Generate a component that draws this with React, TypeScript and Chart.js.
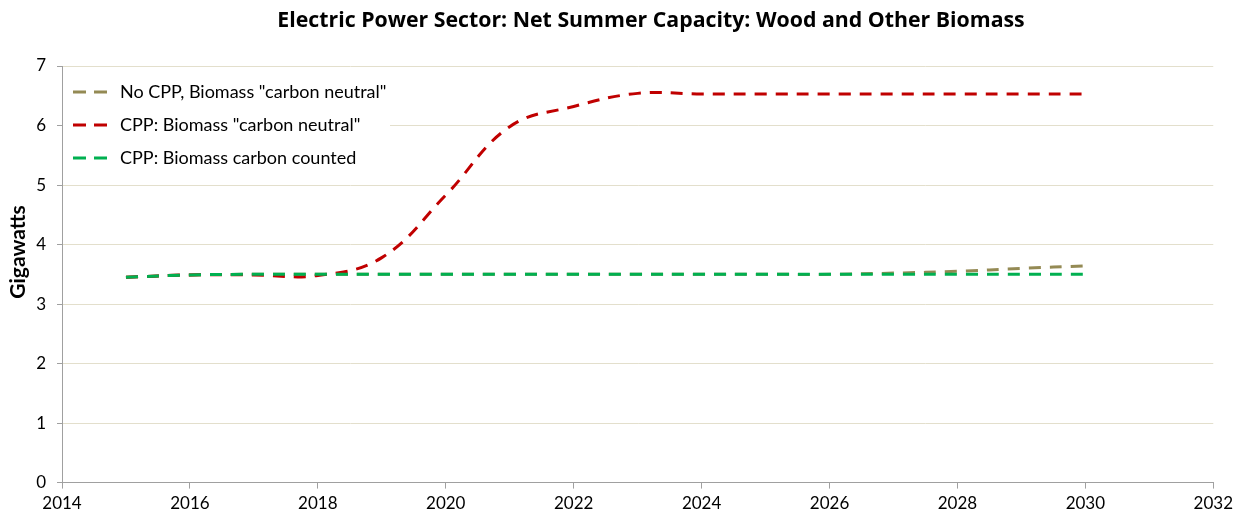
import React, { useEffect, useRef } from "react";
import { Chart, registerables } from "chart.js";

Chart.register(...registerables);

const years = [2015, 2016, 2017, 2018, 2019, 2020, 2021, 2022, 2023, 2024, 2025, 2026, 2027, 2028, 2029, 2030];
const noCpp = [3.45, 3.49, 3.5, 3.5, 3.5, 3.5, 3.5, 3.5, 3.5, 3.5, 3.5, 3.5, 3.52, 3.55, 3.6, 3.64];
const cppNeutral = [3.45, 3.49, 3.49, 3.48, 3.78, 4.83, 5.98, 6.32, 6.54, 6.53, 6.53, 6.53, 6.53, 6.53, 6.53, 6.53];
const cppCounted = [3.45, 3.49, 3.5, 3.5, 3.5, 3.5, 3.5, 3.5, 3.5, 3.5, 3.5, 3.5, 3.5, 3.5, 3.5, 3.5];

const seriesLabels = ['No CPP, Biomass "carbon neutral"', 'CPP: Biomass "carbon neutral"', "CPP: Biomass carbon counted"];
const seriesColors = ["#948a54", "#c00000", "#00b050"];
const titleText = "Electric Power Sector: Net Summer Capacity: Wood and Other Biomass";
const yTitle = "Gigawatts";

const FONT = "Lato, 'Open Sans', sans-serif";

const textPlugin = {
  id: "textAndLegend",
  beforeDatasetsDraw(chart: any) {
    const { ctx, chartArea } = chart;
    ctx.save();
    ctx.fillStyle = "#ffffff";
    ctx.fillRect(chartArea.left + 1, chartArea.top + 8, 327, 104);
    ctx.restore();
  },
  afterDatasetsDraw(chart: any) {
    const { ctx, chartArea } = chart;
    ctx.save();
    const x0 = chartArea.left + 11;
    const y0 = chartArea.top + 26;
    const gap = 33;
    ctx.font = "18px " + FONT;
    ctx.textBaseline = "middle";
    ctx.textAlign = "left";
    seriesLabels.forEach((lab, i) => {
      const y = y0 + i * gap;
      ctx.strokeStyle = seriesColors[i];
      ctx.lineWidth = 3;
      ctx.setLineDash([13, 8]);
      ctx.beginPath();
      ctx.moveTo(x0, y);
      ctx.lineTo(x0 + 34, y);
      ctx.stroke();
      ctx.setLineDash([]);
      ctx.fillStyle = "#000000";
      ctx.fillText(lab, x0 + 47, y);
    });
    // title
    ctx.font = "bold 21.3px 'Open Sans', sans-serif";
    ctx.textAlign = "center";
    ctx.textBaseline = "middle";
    ctx.fillText(titleText, 651, 21);
    // y axis title
    ctx.translate(18, 252);
    ctx.rotate(-Math.PI / 2);
    ctx.font = "bold 21px " + FONT;
    ctx.fillText(yTitle, 0, 0);
    ctx.restore();
  },
};

export default function App() {
  const ref = useRef<HTMLCanvasElement | null>(null);
  useEffect(() => {
    if (!ref.current) return;
    const mk = (vals: number[], i: number, order: number) => ({
      label: seriesLabels[i],
      data: years.map((y, k) => ({ x: y, y: vals[k] })),
      borderColor: seriesColors[i],
      backgroundColor: seriesColors[i],
      borderWidth: 3,
      borderDash: [12, 9],
      pointRadius: 0,
      tension: 0.4,
      fill: false,
      order,
    });
    const chart = new Chart(ref.current, {
      type: "line",
      data: {
        datasets: [mk(noCpp, 0, 3), mk(cppNeutral, 1, 2), mk(cppCounted, 2, 1)],
      },
      plugins: [textPlugin],
      options: {
        animation: false,
        responsive: true,
        maintainAspectRatio: false,
        layout: { padding: { left: 0, right: 20, top: 66, bottom: 0 } },
        plugins: {
          legend: { display: false },
          tooltip: { enabled: false },
          title: { display: false },
        },
        scales: {
          x: {
            type: "linear",
            min: 2014,
            max: 2032,
            ticks: {
              stepSize: 2,
              color: "#000000",
              font: { family: FONT, size: 17 },
              callback: (v: any) => String(v),
              padding: 5,
            },
            grid: { display: true, drawOnChartArea: false, tickLength: 6, color: "#a0a0a0" },
            border: { display: true, color: "#a0a0a0", width: 1 },
          },
          y: {
            min: 0,
            max: 7,
            afterFit: (scale: any) => {
              scale.width = 62;
            },
            ticks: {
              stepSize: 1,
              color: "#000000",
              font: { family: FONT, size: 17 },
              padding: 11,
            },
            grid: { color: "#e3dfcc", tickLength: 5, tickColor: "#a0a0a0" },
            border: { display: true, color: "#a0a0a0", width: 1 },
          },
        },
      },
    });
    return () => chart.destroy();
  }, []);
  return (
    <div style={{ position: "fixed", left: 0, top: 0, width: 1238, height: 519, background: "#fff" }}>
      <canvas ref={ref} />
    </div>
  );
}
